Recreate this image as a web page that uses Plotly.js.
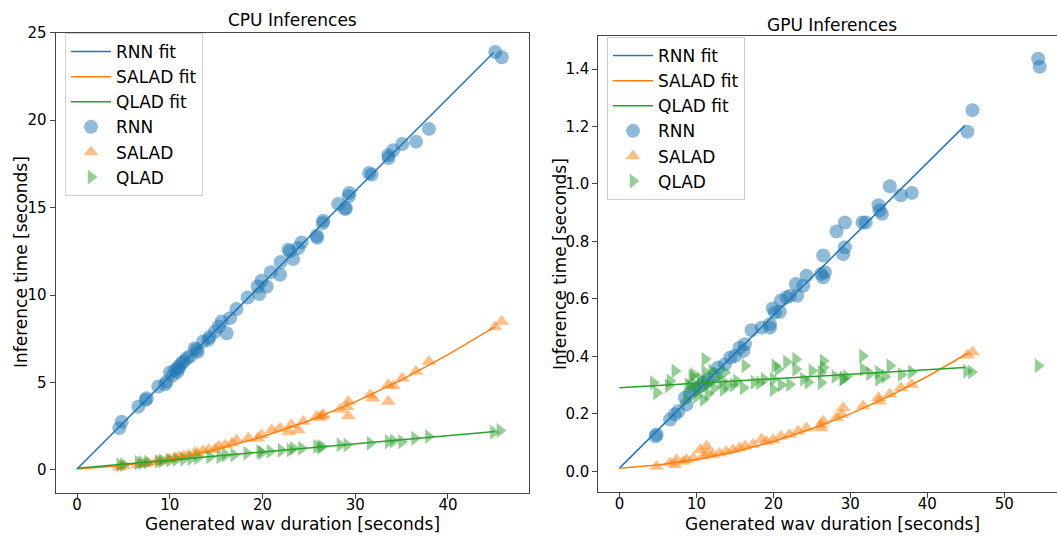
<!DOCTYPE html>
<html>
<head>
<meta charset="utf-8">
<script src="https://cdn.plot.ly/plotly-3.0.1.min.js"></script>
<style>html,body{margin:0;padding:0;background:#fff;}#chart{width:1057px;height:536px;}</style>
</head>
<body>
<div id="chart"></div>
<script>
// ---------- CPU panel data ----------
const cpuRnnX = [45.1,45.8,37.95,36.55,35.07,34.1,33.57,33.6,31.77,31.5,29.36,29.3,28.17,28.9,29.0,26.56,26.5,25.84,25.9,24.22,23.86,22.97,22.8,23.3,21.96,21.9,20.9,19.9,19.48,19.66,20.45,18.4,17.2,16.5,16.14,15.6,14.88,14.16,13.6,12.9,12.7,11.83,11.29,10.92,10.57,10.03,9.67,8.77,7.51,7.4,6.61,4.82,4.56,11.5,11.0,12.2,10.3,13.0,9.5,10.8,14.3,15.3];
const cpuRnnY = [23.9,23.6,19.5,18.77,18.64,18.28,17.99,17.84,16.89,16.98,15.84,15.65,15.2,14.92,14.98,14.25,14.12,13.39,13.27,13.01,12.69,12.5,12.59,12.06,11.89,11.16,11.31,10.82,10.49,10.06,10.49,9.86,9.2,8.68,7.82,8.49,7.92,7.44,7.35,6.87,6.96,6.39,6.1,5.91,5.72,5.57,5.05,4.77,4.1,4.0,3.62,2.76,2.39,6.2,5.8,6.5,5.4,6.75,4.9,5.6,7.6,8.2];
const cpuSaladX = [45.79,45.07,37.95,36.55,35.07,33.57,34.1,33.57,31.6,31.9,29.25,29.1,28.36,29.25,26.56,25.84,26.2,26.4,24.4,23.86,23.1,22.8,21.9,21.0,19.9,19.5,18.47,17.2,16.7,16.0,15.3,14.9,14.2,13.6,13.0,12.7,12.0,11.5,11.0,10.6,10.0,9.7,9.0,8.5,7.6,7.3,6.6,5.0,4.6];
const cpuSaladY = [8.49,8.17,6.2,5.63,5.25,4.87,4.8,3.91,4.29,4.1,3.91,3.62,3.47,3.09,3.15,3.05,3.0,3.1,2.77,2.29,2.58,2.19,2.39,2.29,2.0,1.81,1.81,1.72,1.53,1.43,1.35,1.2,1.15,1.1,0.95,1.0,0.85,0.8,0.75,0.7,0.62,0.6,0.5,0.45,0.4,0.35,0.3,0.25,0.15];
const cpuQladX = [45.6,44.9,37.9,36.4,35.0,33.57,34.1,31.6,29.1,28.36,26.4,25.84,26.2,24.2,23.3,22.97,22.0,20.8,19.7,19.9,18.3,16.9,16.0,15.4,14.3,13.0,12.3,11.5,10.7,10.0,9.2,8.8,7.6,7.0,6.6,5.0,4.6];
const cpuQladY = [2.25,2.15,1.91,1.81,1.62,1.62,1.66,1.53,1.43,1.43,1.34,1.34,1.3,1.24,1.24,1.14,1.12,1.05,1.05,0.98,0.95,0.86,0.85,0.76,0.76,0.7,0.65,0.62,0.6,0.55,0.52,0.5,0.45,0.42,0.42,0.3,0.3];
const cpuRnnFitX = [0, 44.9];
const cpuRnnFitY = [0.05, 23.85];
const cpuSaladFitX = [0,5,10,15,20,25,30,35,40,45.1];
const cpuSaladFitY = [0.05,0.25,0.62,1.17,1.9,2.81,3.89,5.15,6.59,8.2];
const cpuQladFitX = [0, 45.1];
const cpuQladFitY = [0.1, 2.2];

// ---------- GPU panel data ----------
const gpuRnnX = [54.4,54.6,45.87,45.2,35.13,36.56,37.99,33.66,33.8,34.1,29.29,28.2,31.58,32.0,29.29,29.07,26.47,26.69,26.2,26.47,24.3,23.87,22.92,23.1,22.14,21.7,20.97,19.9,20.84,20.2,19.55,19.55,18.47,17.17,16.3,16.08,15.6,15.0,14.4,13.7,12.8,12.4,11.53,10.9,10.5,9.8,9.17,8.5,8.7,7.64,7.2,6.56,4.83,4.7];
const gpuRnnY = [1.436,1.408,1.257,1.182,0.992,0.961,0.969,0.926,0.908,0.896,0.866,0.835,0.866,0.866,0.78,0.756,0.751,0.693,0.687,0.675,0.681,0.646,0.652,0.611,0.611,0.605,0.594,0.567,0.555,0.553,0.512,0.5,0.5,0.491,0.442,0.419,0.43,0.401,0.396,0.372,0.361,0.337,0.32,0.308,0.297,0.285,0.273,0.256,0.232,0.209,0.198,0.18,0.128,0.122];
const gpuSaladX = [45.87,45.2,37.94,36.56,35.13,33.66,33.8,31.66,29.07,28.85,28.2,26.47,26.2,26.2,24.3,23.2,22.1,21.0,19.97,19.1,18.47,17.38,16.3,15.6,14.75,13.85,12.99,12.1,11.32,11.5,10.9,10.5,9.6,8.7,8.3,7.4,7.2,6.56,4.83];
const gpuSaladY = [0.415,0.404,0.302,0.291,0.268,0.256,0.244,0.227,0.221,0.198,0.186,0.174,0.163,0.151,0.151,0.139,0.128,0.122,0.11,0.104,0.112,0.093,0.087,0.081,0.075,0.069,0.063,0.058,0.087,0.063,0.052,0.075,0.046,0.04,0.034,0.04,0.023,0.029,0.017];
const gpuQladX = [54.4,45.74,45.1,37.94,36.6,35.13,33.66,33.66,31.66,31.58,29.07,26.47,26.47,26.2,26.2,23.9,22.9,22.9,22.1,21.7,20.6,20.2,19.97,19.97,18.2,16.3,16.08,15.2,13.7,13.5,11.1,11.1,10.9,9.6,9.17,8.7,7.2,6.56,6.35,4.4,4.83,9.8,10.2,10.5,11.3,11.8,12.3,12.8,13.2,14.0,14.8,9.4,8.9,10.0,11.5,12.0,17.5,18.8,21.0,24.5,25.0,28.0,29.0,29.5,32.5,34.5];
const gpuQladY = [0.367,0.346,0.348,0.346,0.337,0.367,0.345,0.32,0.355,0.401,0.325,0.384,0.361,0.345,0.308,0.32,0.39,0.355,0.302,0.38,0.355,0.367,0.32,0.285,0.308,0.367,0.291,0.314,0.345,0.285,0.39,0.345,0.25,0.337,0.297,0.25,0.349,0.314,0.297,0.308,0.273,0.30,0.28,0.32,0.30,0.31,0.29,0.33,0.31,0.30,0.30,0.33,0.30,0.26,0.27,0.35,0.31,0.32,0.30,0.31,0.35,0.33,0.32,0.33,0.34,0.33];
const gpuRnnFitX = [0, 44.87];
const gpuRnnFitY = [0.011, 1.203];
const gpuSaladFitX = [0,5,10,15,20,25,30,35,40,45.2];
const gpuSaladFitY = [0.011,0.022,0.041,0.068,0.104,0.148,0.2,0.261,0.33,0.41];
const gpuQladFitX = [0, 44.87];
const gpuQladFitY = [0.291, 0.361];

const cpuXTicks = [0,10,20,30,40];
const cpuYTicks = [0,5,10,15,20,25];
const gpuXTicks = [0,10,20,30,40,50];
const gpuYTicks = [0,0.2,0.4,0.6,0.8,1.0,1.2,1.4];
const gpuYTickText = ['0.0','0.2','0.4','0.6','0.8','1.0','1.2','1.4'];

const C = {rnn:'#1f77b4', salad:'#ff7f0e', qlad:'#2ca02c'};
const W = 1057, H = 536;
const px = v => v / W, py = v => 1 - v / H;

function scatter(x, y, name, color, symbol, xa, ya, leg, rank) {
  return {type:'scatter', mode:'markers', x:x, y:y, name:name, xaxis:xa, yaxis:ya, legend:leg, legendrank:rank,
    marker:{color:color, symbol:symbol, size:symbol==='circle'?14:13, opacity:0.5, line:{width:0}}};
}
function fit(x, y, name, color, xa, ya, leg, rank) {
  return {type:'scatter', mode:'lines', x:x, y:y, name:name, xaxis:xa, yaxis:ya, legend:leg, legendrank:rank,
    line:{color:color, width:1.5}};
}

const data = [
  scatter(cpuRnnX, cpuRnnY, 'RNN', C.rnn, 'circle', 'x', 'y', 'legend', 4),
  scatter(cpuSaladX, cpuSaladY, 'SALAD', C.salad, 'triangle-up', 'x', 'y', 'legend', 5),
  scatter(cpuQladX, cpuQladY, 'QLAD', C.qlad, 'triangle-right', 'x', 'y', 'legend', 6),
  fit(cpuRnnFitX, cpuRnnFitY, 'RNN fit', C.rnn, 'x', 'y', 'legend', 1),
  fit(cpuSaladFitX, cpuSaladFitY, 'SALAD fit', C.salad, 'x', 'y', 'legend', 2),
  fit(cpuQladFitX, cpuQladFitY, 'QLAD fit', C.qlad, 'x', 'y', 'legend', 3),
  scatter(gpuRnnX, gpuRnnY, 'RNN', C.rnn, 'circle', 'x2', 'y2', 'legend2', 4),
  scatter(gpuSaladX, gpuSaladY, 'SALAD', C.salad, 'triangle-up', 'x2', 'y2', 'legend2', 5),
  scatter(gpuQladX, gpuQladY, 'QLAD', C.qlad, 'triangle-right', 'x2', 'y2', 'legend2', 6),
  fit(gpuRnnFitX, gpuRnnFitY, 'RNN fit', C.rnn, 'x2', 'y2', 'legend2', 1),
  fit(gpuSaladFitX, gpuSaladFitY, 'SALAD fit', C.salad, 'x2', 'y2', 'legend2', 2),
  fit(gpuQladFitX, gpuQladFitY, 'QLAD fit', C.qlad, 'x2', 'y2', 'legend2', 3)
];

const font = {family:'DejaVu Sans, sans-serif', color:'#000'};
const axisCommon = {showgrid:false, zeroline:false, showline:true, linecolor:'#444', linewidth:1,
  ticks:'outside', ticklen:5, tickwidth:1, tickcolor:'#444', tickfont:{family:font.family, size:15, color:'#000'}};

const legendCommon = {bgcolor:'rgba(255,255,255,0.8)', bordercolor:'#d0d0d0', borderwidth:1,
  font:{family:font.family, size:17, color:'#000'}, xanchor:'left', yanchor:'top', traceorder:'normal', itemwidth:40};

const layout = {
  width:W, height:H, margin:{l:0,r:0,t:0,b:0}, paper_bgcolor:'#fff', plot_bgcolor:'#fff',
  font:font, showlegend:true,
  xaxis:Object.assign({}, axisCommon, {domain:[px(55.5), px(529.3)], range:[-2.32, 48.77], tickvals:cpuXTicks, mirror:true, anchor:'y', ticklabelstandoff:-7}),
  yaxis:Object.assign({}, axisCommon, {domain:[1-492.7/H, 1-32.7/H], range:[-1.3, 25.0], tickvals:cpuYTicks, mirror:true, anchor:'x'}),
  xaxis2:Object.assign({}, axisCommon, {domain:[px(598.3), 1], range:[-2.75, 56.85], tickvals:gpuXTicks, mirror:true, anchor:'y2', ticklabelstandoff:-7}),
  yaxis2:Object.assign({}, axisCommon, {domain:[1-492/H, 1-36/H], range:[-0.072, 1.515], tickvals:gpuYTicks, ticktext:gpuYTickText, mirror:false, anchor:'x2'}),
  legend:Object.assign({}, legendCommon, {x:px(65), y:py(33)}),
  legend2:Object.assign({}, legendCommon, {x:px(607), y:py(37)}),
  annotations:[
    {text:'CPU Inferences', xref:'paper', yref:'paper', x:px(292.4), y:py(20), showarrow:false, xanchor:'center', yanchor:'middle', font:{family:font.family, size:17, color:'#000'}},
    {text:'GPU Inferences', xref:'paper', yref:'paper', x:px(832), y:py(25), showarrow:false, xanchor:'center', yanchor:'middle', font:{family:font.family, size:17, color:'#000'}},
    {text:'Generated wav duration [seconds]', xref:'paper', yref:'paper', x:px(292.4), y:py(524), showarrow:false, xanchor:'center', yanchor:'middle', font:{family:font.family, size:17, color:'#000'}},
    {text:'Generated wav duration [seconds]', xref:'paper', yref:'paper', x:px(832), y:py(524), showarrow:false, xanchor:'center', yanchor:'middle', font:{family:font.family, size:17, color:'#000'}},
    {text:'Inference time [seconds]', xref:'paper', yref:'paper', x:px(21), y:py(262), showarrow:false, textangle:-90, xanchor:'center', yanchor:'middle', font:{family:font.family, size:17, color:'#000'}},
    {text:'Inference time [seconds]', xref:'paper', yref:'paper', x:px(560), y:py(264), showarrow:false, textangle:-90, xanchor:'center', yanchor:'middle', font:{family:font.family, size:17, color:'#000'}}
  ]
};

Plotly.newPlot('chart', data, layout, {staticPlot:true, displayModeBar:false});
</script>
</body>
</html>
